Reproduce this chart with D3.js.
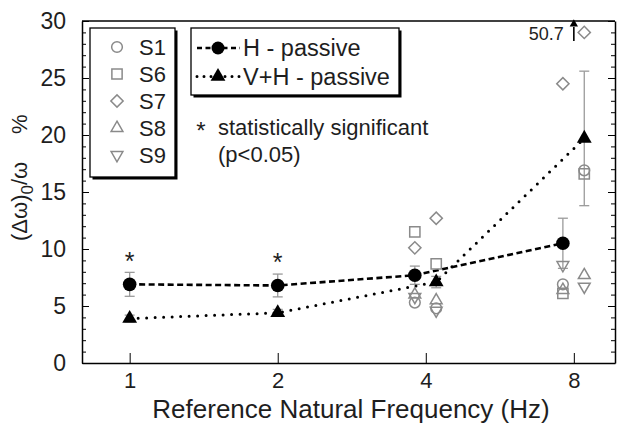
<!DOCTYPE html>
<html><head><meta charset="utf-8">
<script src="https://cdn.jsdelivr.net/npm/d3@7"></script>
<style>body{margin:0;background:#fff}svg{display:block}text{font-family:"Liberation Sans",Arial,sans-serif}</style>
</head><body>
<svg id="c" width="619" height="425"></svg>
<script>
// ---- data ----
const xTicks = [1, 2, 4, 8];
const yTicks = [0, 5, 10, 15, 20, 25, 30];
// mean series (x positions slightly offset at 4 and 8 Hz as in the figure)
const hX = [1, 2, 3.8, 7.6];
const hMean = [6.9, 6.8, 7.7, 10.5];
const hErr = [1.05, 1.0, 0.8, 2.2];
const vhX = [1, 2, 4.2, 8.4];
const vhMean = [3.9, 4.4, 7.1, 19.7];
const vhErr = [0.3, 0.3, 0.5, 5.9];
// individual subjects: [4 Hz H, 4 Hz V+H, 8 Hz H, 8 Hz V+H]
const subjX = [3.8, 4.2, 7.6, 8.4];
const s1 = [5.3, 4.8, 6.9, 16.9];
const s6 = [11.5, 8.7, 6.1, 16.6];
const s7 = [10.1, 12.7, 24.5, 29.0];
const s8 = [6.0, 5.5, 6.4, 7.7];
const s9 = [5.8, 4.6, 8.6, 6.7];
const subjects = ["S1", "S6", "S7", "S8", "S9"];
const seriesNames = ["H - passive", "V+H - passive"];
const sigX = [1, 2];
const sigY = [9.3, 9.2];
const offValue = 50.7;
const offX = 8.0;

// ---- scales ----
const svg = d3.select("#c");
const L = 82, R = 615, T = 21, B = 363;
const x = d3.scaleLog().base(2).domain([0.8, 9.7]).range([L, R]);
const y = d3.scaleLinear().domain([0, 30]).range([B, T]);
const gray = "#8a8a8a";
const ink = "#1e1e1e";

// ---- axes ----
const ax = svg.append("g");
ax.append("g").attr("transform", `translate(${L},0)`)
  .call(d3.axisLeft(y).tickValues(d3.range(0, 31, 1)).tickSize(-4).tickFormat(""))
  .call(g => g.select(".domain").remove());
ax.append("g").attr("transform", `translate(${L},0)`)
  .call(d3.axisLeft(y).tickValues(yTicks).tickSizeInner(-7).tickSizeOuter(0).tickPadding(16))
  .call(g => { g.select(".domain").attr("stroke-width", 1.5); g.selectAll("text").attr("font-size", 23).attr("fill", ink).attr("font-family", "Liberation Sans, Arial, sans-serif"); });
ax.append("g").attr("transform", `translate(${R},0)`)
  .call(d3.axisRight(y).tickValues(d3.range(0, 31, 1)).tickSize(-4).tickFormat(""))
  .call(g => g.select(".domain").remove());
ax.append("g").attr("transform", `translate(${R},0)`)
  .call(d3.axisRight(y).tickValues(yTicks).tickSizeInner(-7).tickSizeOuter(0).tickFormat(""))
  .call(g => g.select(".domain").attr("stroke-width", 1.5));
ax.append("g").attr("transform", `translate(0,${B})`)
  .call(d3.axisBottom(x).tickValues(xTicks).tickSizeInner(-10).tickSizeOuter(0).tickPadding(9).tickFormat(d3.format("d")))
  .call(g => { g.select(".domain").attr("stroke-width", 1.5); g.selectAll("text").attr("font-size", 22).attr("fill", ink).attr("font-family", "Liberation Sans, Arial, sans-serif"); });
svg.append("line").attr("x1", L).attr("x2", R).attr("y1", T).attr("y2", T).attr("stroke", "#000").attr("stroke-width", 1.5);

// axis titles
svg.append("text").attr("x", 351).attr("y", 418).attr("text-anchor", "middle")
  .attr("font-size", 26).attr("fill", ink).text("Reference Natural Frequency (Hz)");
const yl = svg.append("text").attr("transform", "translate(27,241) rotate(-90)")
  .attr("text-anchor", "start").attr("font-size", 22).attr("fill", ink);
yl.append("tspan").text("(Δω)");
yl.append("tspan").attr("font-size", 17).attr("dy", 6).text("0");
yl.append("tspan").attr("dy", -6).text("/ω");
svg.append("text").attr("transform", "translate(27,134) rotate(-90)")
  .attr("text-anchor", "start").attr("font-size", 22).attr("fill", ink).text("%");

// ---- error bars ----
function errBars(xs, m, e) {
  const g = svg.append("g").attr("stroke", "#9a9a9a").attr("stroke-width", 1.3);
  xs.forEach((xv, i) => {
    const cx = x(xv);
    g.append("line").attr("x1", cx).attr("x2", cx).attr("y1", y(m[i] - e[i])).attr("y2", y(m[i] + e[i]));
    [m[i] - e[i], m[i] + e[i]].forEach(v => g.append("line").attr("x1", cx - 5).attr("x2", cx + 5).attr("y1", y(v)).attr("y2", y(v)));
  });
}
errBars(hX, hMean, hErr);
errBars(vhX, vhMean, vhErr);

// ---- lines ----
const line = d3.line().x(d => x(d[0])).y(d => y(d[1]));
svg.append("path").datum(hX.map((v, i) => [v, hMean[i]])).attr("d", line)
  .attr("fill", "none").attr("stroke", "#000").attr("stroke-width", 2.6).attr("stroke-dasharray", "6,3.5");
svg.append("path").datum(vhX.map((v, i) => [v, vhMean[i]])).attr("d", line)
  .attr("fill", "none").attr("stroke", "#000").attr("stroke-width", 3).attr("stroke-linecap", "round").attr("stroke-dasharray", "0,8.5");

// ---- symbols ----
const sym = {
  S1: d3.symbol().type(d3.symbolCircle).size(90)(),
  S6: d3.symbol().type(d3.symbolSquare).size(105)(),
  S7: d3.symbol().type(d3.symbolSquare).size(75)(),
  S8: d3.symbol().type(d3.symbolTriangle).size(60)(),
  S9: d3.symbol().type(d3.symbolTriangle).size(60)()
};
const rot = { S1: 0, S6: 0, S7: 45, S8: 0, S9: 180 };
const subjVals = { S1: s1, S6: s6, S7: s7, S8: s8, S9: s9 };
function drawSubj(g, name, cx, cy) {
  g.append("path").attr("d", sym[name]).attr("transform", `translate(${cx},${cy}) rotate(${rot[name]})`)
    .attr("fill", "none").attr("stroke", gray).attr("stroke-width", 1.5);
}
const sg = svg.append("g");
subjects.forEach(name => subjVals[name].forEach((v, i) => drawSubj(sg, name, x(subjX[i]), y(v))));

// means
hX.forEach((v, i) => svg.append("circle").attr("cx", x(v)).attr("cy", y(hMean[i])).attr("r", 6.8).attr("fill", "#000"));
const triF = d3.symbol().type(d3.symbolTriangle).size(95)();
vhX.forEach((v, i) => svg.append("path").attr("d", triF).attr("transform", `translate(${x(v)},${y(vhMean[i])})`).attr("fill", "#000"));

// significance asterisks
sigX.forEach((v, i) => svg.append("text").attr("x", x(v)).attr("y", y(sigY[i]) + 13).attr("text-anchor", "middle")
  .attr("font-size", 25).attr("fill", ink).text("*"));

// off-scale annotation
svg.append("text").attr("x", x(offX) - 10).attr("y", 40).attr("text-anchor", "end").attr("font-size", 18).attr("fill", ink).text(offValue);
svg.append("line").attr("x1", x(offX)).attr("x2", x(offX)).attr("y1", 41).attr("y2", 27).attr("stroke", "#000").attr("stroke-width", 1.6);
svg.append("path").attr("d", d3.symbol().type(d3.symbolTriangle).size(30)()).attr("transform", `translate(${x(offX)},${y(30) + 3})`).attr("fill", "#000");

// ---- legend 1 (subjects) ----
function box(x0, y0, w, h) {
  svg.append("rect").attr("x", x0 + 2.5).attr("y", y0 + 2.5).attr("width", w).attr("height", h).attr("fill", "#000");
  svg.append("rect").attr("x", x0).attr("y", y0).attr("width", w).attr("height", h).attr("fill", "#fff").attr("stroke", "#000").attr("stroke-width", 1.3);
}
box(90, 28, 85, 149);
subjects.forEach((name, i) => {
  const cy = 47 + i * 27;
  drawSubj(svg, name, 117, cy);
  svg.append("text").attr("x", 139).attr("y", cy + 8).attr("font-size", 22).attr("fill", ink).text(name);
});
// ---- legend 2 (series) ----
box(191, 28, 208, 67);
[0, 1].forEach(i => {
  const cy = 48 + i * 28.5;
  svg.append("line").attr("x1", 197).attr("x2", 240).attr("y1", cy).attr("y2", cy).attr("stroke", "#000")
    .attr("stroke-width", i ? 3 : 2.6).attr("stroke-linecap", i ? "round" : "butt").attr("stroke-dasharray", i ? "0,7" : "5,3.5");
  if (i === 0) svg.append("circle").attr("cx", 218).attr("cy", cy).attr("r", 6.5).attr("fill", "#000");
  else svg.append("path").attr("d", triF).attr("transform", `translate(218,${cy})`).attr("fill", "#000");
  svg.append("text").attr("x", 243).attr("y", cy + 8).attr("font-size", 23.5).attr("fill", ink).text(seriesNames[i]);
});
svg.append("text").attr("x", 201).attr("y", 139).attr("text-anchor", "middle").attr("font-size", 24).attr("fill", ink).text("*");
svg.append("text").attr("x", 218).attr("y", 135).attr("font-size", 22).attr("fill", ink).text("statistically significant");
svg.append("text").attr("x", 218).attr("y", 162).attr("font-size", 22).attr("fill", ink).text("(p<0.05)");
</script>
</body></html>
